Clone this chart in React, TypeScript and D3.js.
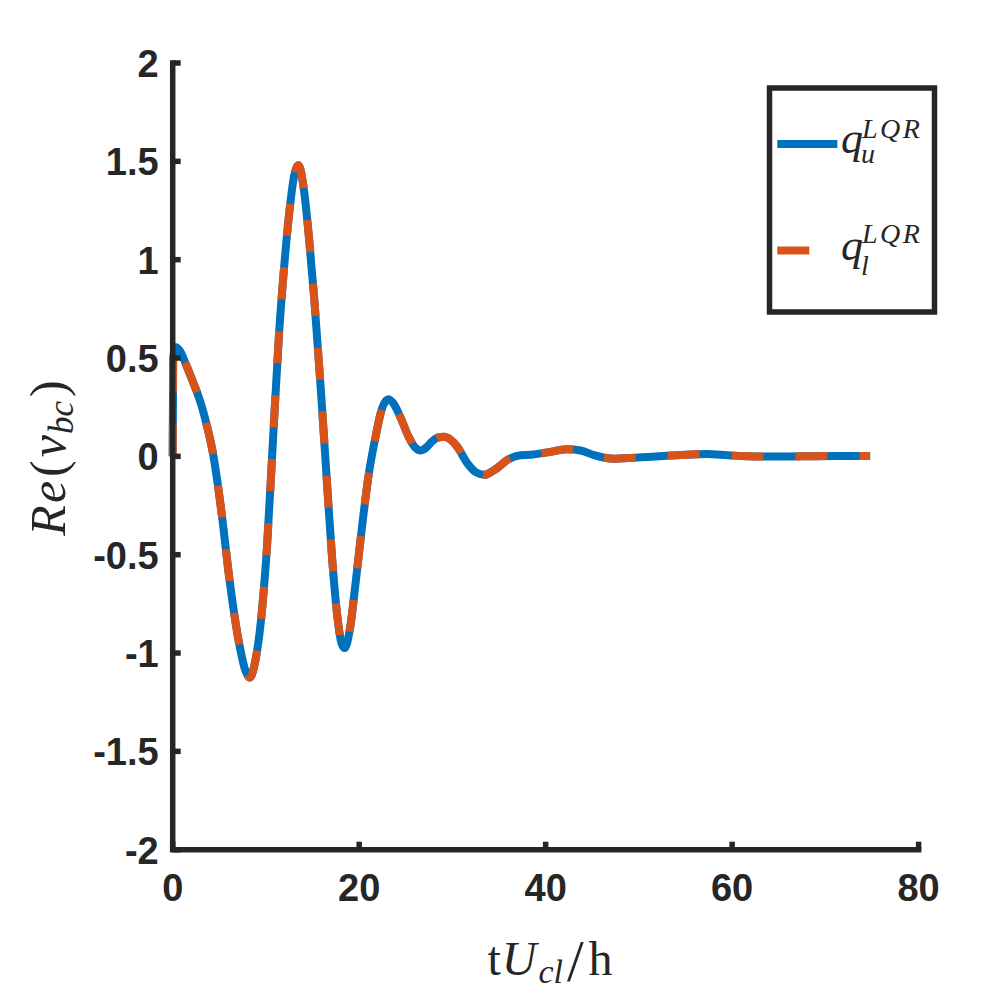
import { useRef, useEffect } from 'react';
import * as d3 from 'd3';

// time axis (tU_cl/h) and Re(v_bc)
const tValues = [
  0, 0.05, 0.35, 0.8, 1.4, 2.0, 2.8, 3.2, 3.8, 4.3, 4.8, 5.3, 6.1, 7.2, 7.8, 8.25, 8.9, 9.5,
  10.1, 10.8, 11.4, 12.0, 12.6, 13.0, 13.5, 14.0, 14.6, 15.2, 15.9, 16.5, 17.1, 17.7, 18.1,
  18.45, 19.0, 19.6, 20.3, 21.0, 21.8, 22.5, 23.15, 23.8, 24.5, 25.3, 26.0, 26.6, 27.2, 27.8,
  28.4, 29.1, 29.8, 30.5, 31.6, 32.5, 33.5, 34.3, 34.8, 35.9, 37.3, 38.4, 40.2, 42.3, 43.75,
  45.2, 46.3, 47.5, 48.8, 50.9, 53.0, 55.6, 57.3, 59.5, 61.8, 65.4, 69.0, 72.5, 74.8,
];

const qUpper = [
  0, 0.5, 0.555, 0.535, 0.47, 0.4, 0.3, 0.24, 0.13, 0.02, -0.13, -0.31, -0.63, -0.97, -1.09,
  -1.125, -1.03, -0.82, -0.47, 0.12, 0.62, 0.99, 1.28, 1.42, 1.48, 1.38, 1.12, 0.79, 0.33,
  -0.1, -0.52, -0.83, -0.95, -0.975, -0.88, -0.65, -0.36, -0.1, 0.11, 0.25, 0.29, 0.26, 0.19,
  0.1, 0.045, 0.03, 0.045, 0.075, 0.095, 0.1, 0.085, 0.05, -0.035, -0.08, -0.094, -0.075,
  -0.06, -0.018, 0.006, 0.008, 0.02, 0.036, 0.03, 0.006, -0.007, -0.012, -0.009, -0.003, 0.003,
  0.009, 0.012, 0.006, 0.0, -0.001, 0.001, 0.002, 0.002,
];

// the lower-wall actuation lies exactly on top of the upper one in the figure
const qLower = qUpper;

const xTicks = [0, 20, 40, 60, 80];
const yTicks = [-2, -1.5, -1, -0.5, 0, 0.5, 1, 1.5, 2];

const BLUE = '#0072BD';
const ORANGE = '#D95319';
const AXIS = '#262626';

export default function App() {
  const svgRef = useRef<SVGSVGElement>(null);

  useEffect(() => {
    if (!svgRef.current) return;
    const svg = d3.select(svgRef.current);
    svg.selectAll('*').remove();

    const x = d3.scaleLinear().domain([0, 80]).range([172.7, 918.6]);
    const y = d3.scaleLinear().domain([-2, 2]).range([849.7, 63]);

    const line = d3
      .line<number>()
      .x((_, i) => x(tValues[i]))
      .y((d) => y(d))
      .curve(d3.curveMonotoneX);

    // series
    svg.append('path')
      .attr('d', line(qUpper))
      .attr('fill', 'none')
      .attr('stroke', BLUE)
      .attr('stroke-width', 8)
      .attr('stroke-linejoin', 'round');

    svg.append('path')
      .attr('d', line(qLower))
      .attr('fill', 'none')
      .attr('stroke', ORANGE)
      .attr('stroke-width', 8)
      .attr('stroke-linejoin', 'round')
      .attr('stroke-dasharray', '32 32');

    // axes (box off, ticks inward)
    const ax = svg.append('g').attr('stroke', AXIS).attr('stroke-width', 5.5).attr('fill', 'none');
    ax.append('path')
      .attr('d', `M${x(0)},${y(2)} V${y(-2)} H${x(80)}`)
      .attr('stroke-linecap', 'square');
    ax.selectAll('.yt')
      .data(yTicks)
      .join('line')
      .attr('x1', x(0))
      .attr('x2', x(0) + 8)
      .attr('y1', (d) => y(d))
      .attr('y2', (d) => y(d));
    ax.selectAll('.xt')
      .data(xTicks)
      .join('line')
      .attr('x1', (d) => x(d))
      .attr('x2', (d) => x(d))
      .attr('y1', y(-2))
      .attr('y2', y(-2) - 8);

    const tickFont = 'Liberation Sans, Arial, sans-serif';
    svg.append('g')
      .selectAll('text')
      .data(yTicks)
      .join('text')
      .attr('x', x(0) - 14)
      .attr('y', (d) => y(d) + 14)
      .attr('text-anchor', 'end')
      .attr('font-family', tickFont)
      .attr('font-weight', 'bold')
      .attr('font-size', 38)
      .attr('fill', AXIS)
      .text((d) => String(d));

    svg.append('g')
      .selectAll('text')
      .data(xTicks)
      .join('text')
      .attr('x', (d) => x(d))
      .attr('y', y(-2) + 51)
      .attr('text-anchor', 'middle')
      .attr('font-family', tickFont)
      .attr('font-weight', 'bold')
      .attr('font-size', 38)
      .attr('fill', AXIS)
      .text((d) => String(d));

    const serif = 'Liberation Serif, Times New Roman, serif';

    // x label: tU_cl/h
    const xl = svg.append('text')
      .attr('x', 550)
      .attr('y', 975)
      .attr('text-anchor', 'middle')
      .attr('font-family', serif)
      .attr('font-size', 48)
      .attr('fill', AXIS);
    xl.append('tspan').text('t');
    xl.append('tspan').attr('dx', 1).attr('font-style', 'italic').text('U');
    xl.append('tspan').attr('dx', 2).attr('dy', 8).attr('font-style', 'italic').attr('font-size', 34).text('cl');
    xl.append('tspan').attr('dx', 4).attr('dy', -2).attr('font-size', 60).text('/');
    xl.append('tspan').attr('dx', 5).attr('dy', -6).text('h');

    // y label: Re(v_bc)
    const yl = svg.append('text')
      .attr('transform', 'translate(65,458) rotate(-90)')
      .attr('text-anchor', 'middle')
      .attr('font-family', serif)
      .attr('font-size', 50)
      .attr('fill', AXIS);
    yl.append('tspan').attr('font-style', 'italic').text('R');
    yl.append('tspan').attr('dx', 2).attr('font-style', 'italic').text('e');
    yl.append('tspan').attr('dx', 4).text('(');
    yl.append('tspan').attr('dx', 3).attr('font-style', 'italic').text('v');
    yl.append('tspan').attr('dx', 1).attr('dy', 8).attr('font-style', 'italic').attr('font-size', 35).text('bc');
    yl.append('tspan').attr('dx', 4).attr('dy', -8).text(')');

    // legend
    const lg = svg.append('g');
    lg.append('rect')
      .attr('x', 769.5)
      .attr('y', 88)
      .attr('width', 165)
      .attr('height', 224)
      .attr('fill', '#fff')
      .attr('stroke', AXIS)
      .attr('stroke-width', 5.5);

    const items = [
      { color: BLUE, dash: null, sub: 'u', lineY: 144, base: 153, subBase: 163, supBase: 138 },
      { color: ORANGE, dash: '32 32', sub: 'l', lineY: 250.5, base: 260, subBase: 275, supBase: 243 },
    ];
    items.forEach((it) => {
      lg.append('line')
        .attr('x1', 777.3)
        .attr('x2', 837.3)
        .attr('y1', it.lineY)
        .attr('y2', it.lineY)
        .attr('stroke', it.color)
        .attr('stroke-width', 8)
        .attr('stroke-dasharray', it.dash);
      // q with stacked sub- and superscript in one text element
      const t = lg.append('text')
        .attr('x', 841)
        .attr('y', it.base)
        .attr('font-family', serif)
        .attr('font-style', 'italic')
        .attr('font-size', 44)
        .attr('fill', AXIS);
      t.append('tspan').text('q');
      t.append('tspan')
        .attr('x', 861)
        .attr('y', it.subBase)
        .attr('font-size', 28)
        .text(it.sub);
      t.append('tspan')
        .attr('x', 862)
        .attr('y', it.supBase)
        .attr('font-size', 28)
        .attr('letter-spacing', 2.5)
        .text('LQR');
    });
  }, []);

  return (
    <svg
      ref={svgRef}
      width={1008}
      height={1008}
      style={{ position: 'absolute', left: 0, top: 0, background: '#fff' }}
    />
  );
}
